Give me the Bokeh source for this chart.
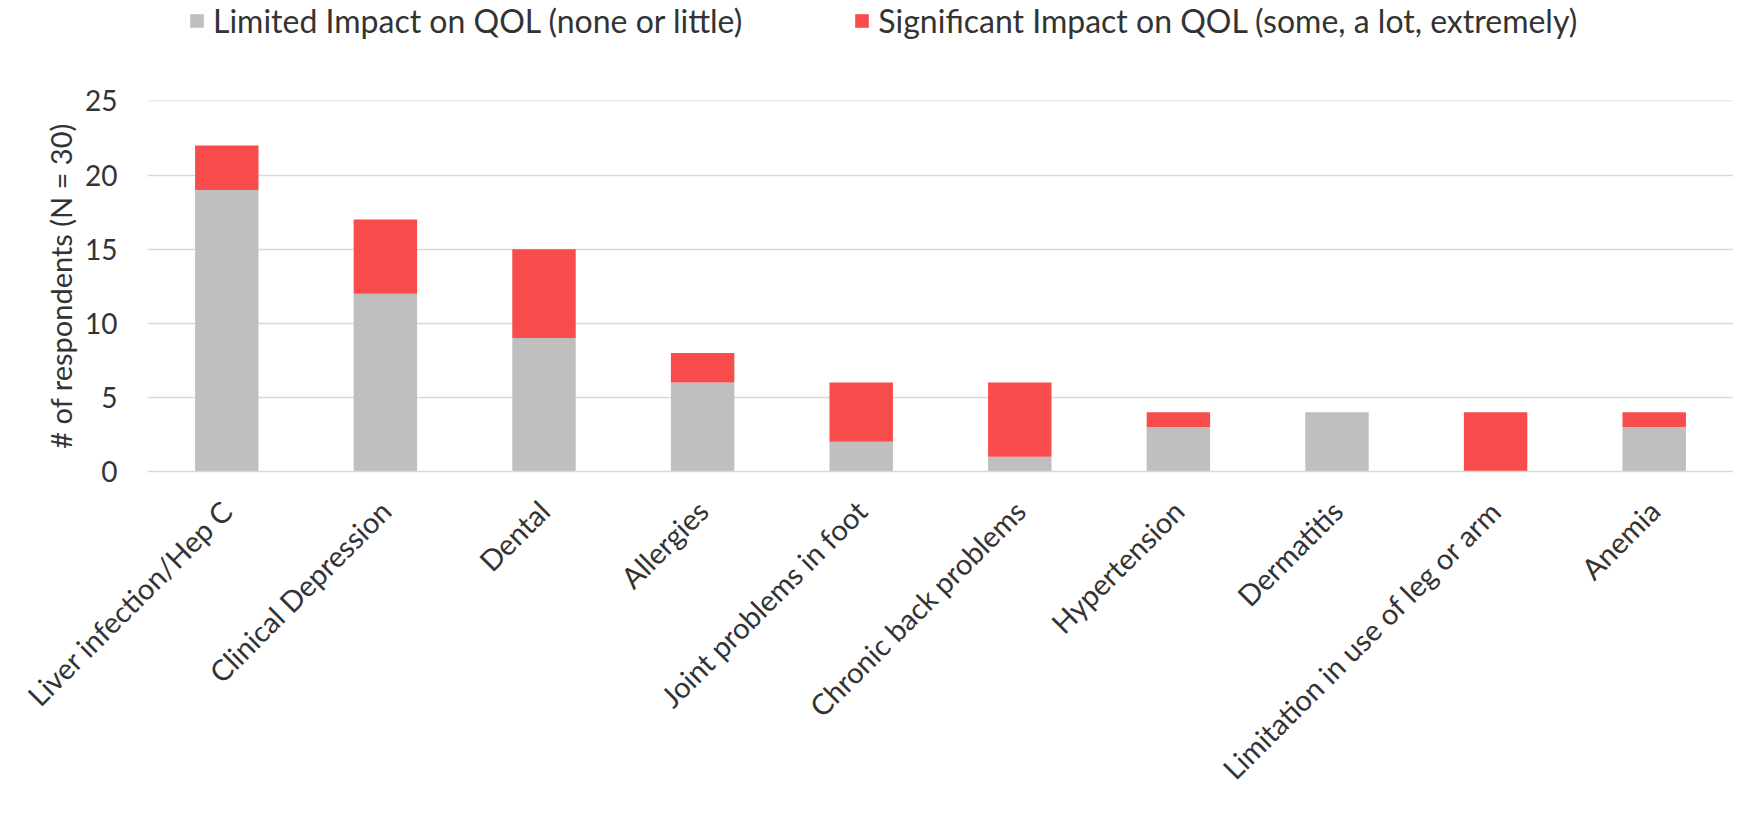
from bokeh.plotting import figure
from bokeh.models import ColumnDataSource, FactorRange, FixedTicker, Legend, LegendItem, Range1d
from bokeh.layouts import column
from bokeh.embed import file_html
from bokeh.resources import INLINE
import math

categories = ["Liver infection/Hep C", "Clinical Depression", "Dental", "Allergies",
              "Joint problems in foot", "Chronic back problems", "Hypertension",
              "Dermatitis", "Limitation in use of leg or arm", "Anemia"]
limited = [19, 12, 9, 6, 2, 1, 3, 4, 0, 3]
significant = [3, 5, 6, 2, 4, 5, 1, 0, 4, 1]
series_names = ["Limited Impact on QOL (none or little)",
                "Significant Impact on QOL (some, a lot, extremely)"]
series_colors = ["#BFBFBF", "#F84C4C"]
y_ticks = [0, 5, 10, 15, 20, 25]

FONT = "Lato"
TXT = "#333333"

source = ColumnDataSource(dict(cat=categories, limited=limited, significant=significant))

# ---- legend strip on top (same bars, kept out of its view; only the legend shows) ----
leg = figure(width=1733, height=50, output_backend="svg", toolbar_location=None,
             x_range=FactorRange(factors=categories, range_padding=0), y_range=Range1d(1000, 1001),
             x_axis_type=None, y_axis_type=None,
             min_border_left=0, min_border_right=0, min_border_top=0, min_border_bottom=0)
leg.outline_line_color = None
leg.grid.visible = False
lr = leg.vbar_stack(["limited", "significant"], x="cat", width=0.4, source=source,
                    color=series_colors, line_color=None)
legend = Legend(items=[LegendItem(label=series_names[i], renderers=[lr[i]]) for i in range(2)],
                orientation="horizontal", location=(41, 10),
                label_text_font=FONT, label_text_font_size="32px", label_text_color=TXT,
                glyph_width=17, glyph_height=17, label_standoff=8, spacing=111,
                border_line_color=None, background_fill_alpha=0, padding=0, margin=0)
leg.add_layout(legend, "center")

# ---- main chart ----
p = figure(frame_width=1586, frame_height=371, output_backend="svg", toolbar_location=None,
           x_range=FactorRange(factors=categories, range_padding=0),
           y_range=Range1d(0, 25.03),
           min_border_left=147, min_border_right=0, min_border_top=50, min_border_bottom=5)

p.vbar_stack(["limited", "significant"], x="cat", width=0.4, source=source,
             color=series_colors, line_color=None)

p.outline_line_color = None
p.xgrid.grid_line_color = None
p.ygrid.grid_line_color = "#D9D9D9"
p.ygrid.grid_line_width = 1.5
p.yaxis.ticker = FixedTicker(ticks=y_ticks)
p.yaxis.axis_line_color = None
p.yaxis.major_tick_line_color = None
p.yaxis.minor_tick_line_color = None
p.yaxis.major_label_text_font = FONT
p.yaxis.major_label_text_font_size = "28px"
p.yaxis.major_label_text_color = TXT
p.yaxis.major_label_standoff = 24
p.yaxis.axis_label = "# of respondents (N = 30)"
p.yaxis.axis_label_text_font = FONT
p.yaxis.axis_label_text_font_size = "29px"
p.yaxis.axis_label_text_font_style = "normal"
p.yaxis.axis_label_text_color = TXT
p.yaxis.axis_label_standoff = 4

p.xaxis.axis_line_color = "#D9D9D9"
p.xaxis.axis_line_width = 1.5
p.xaxis.major_tick_line_color = None
p.xaxis.minor_tick_line_color = None
p.xaxis.major_label_orientation = math.pi / 4
p.xaxis.major_label_text_font = FONT
p.xaxis.major_label_text_font_size = "29px"
p.xaxis.major_label_text_color = TXT
p.xaxis.major_label_standoff = 28

layout = column(leg, p, spacing=0)
open("out.html", "w").write(file_html(layout, INLINE))
